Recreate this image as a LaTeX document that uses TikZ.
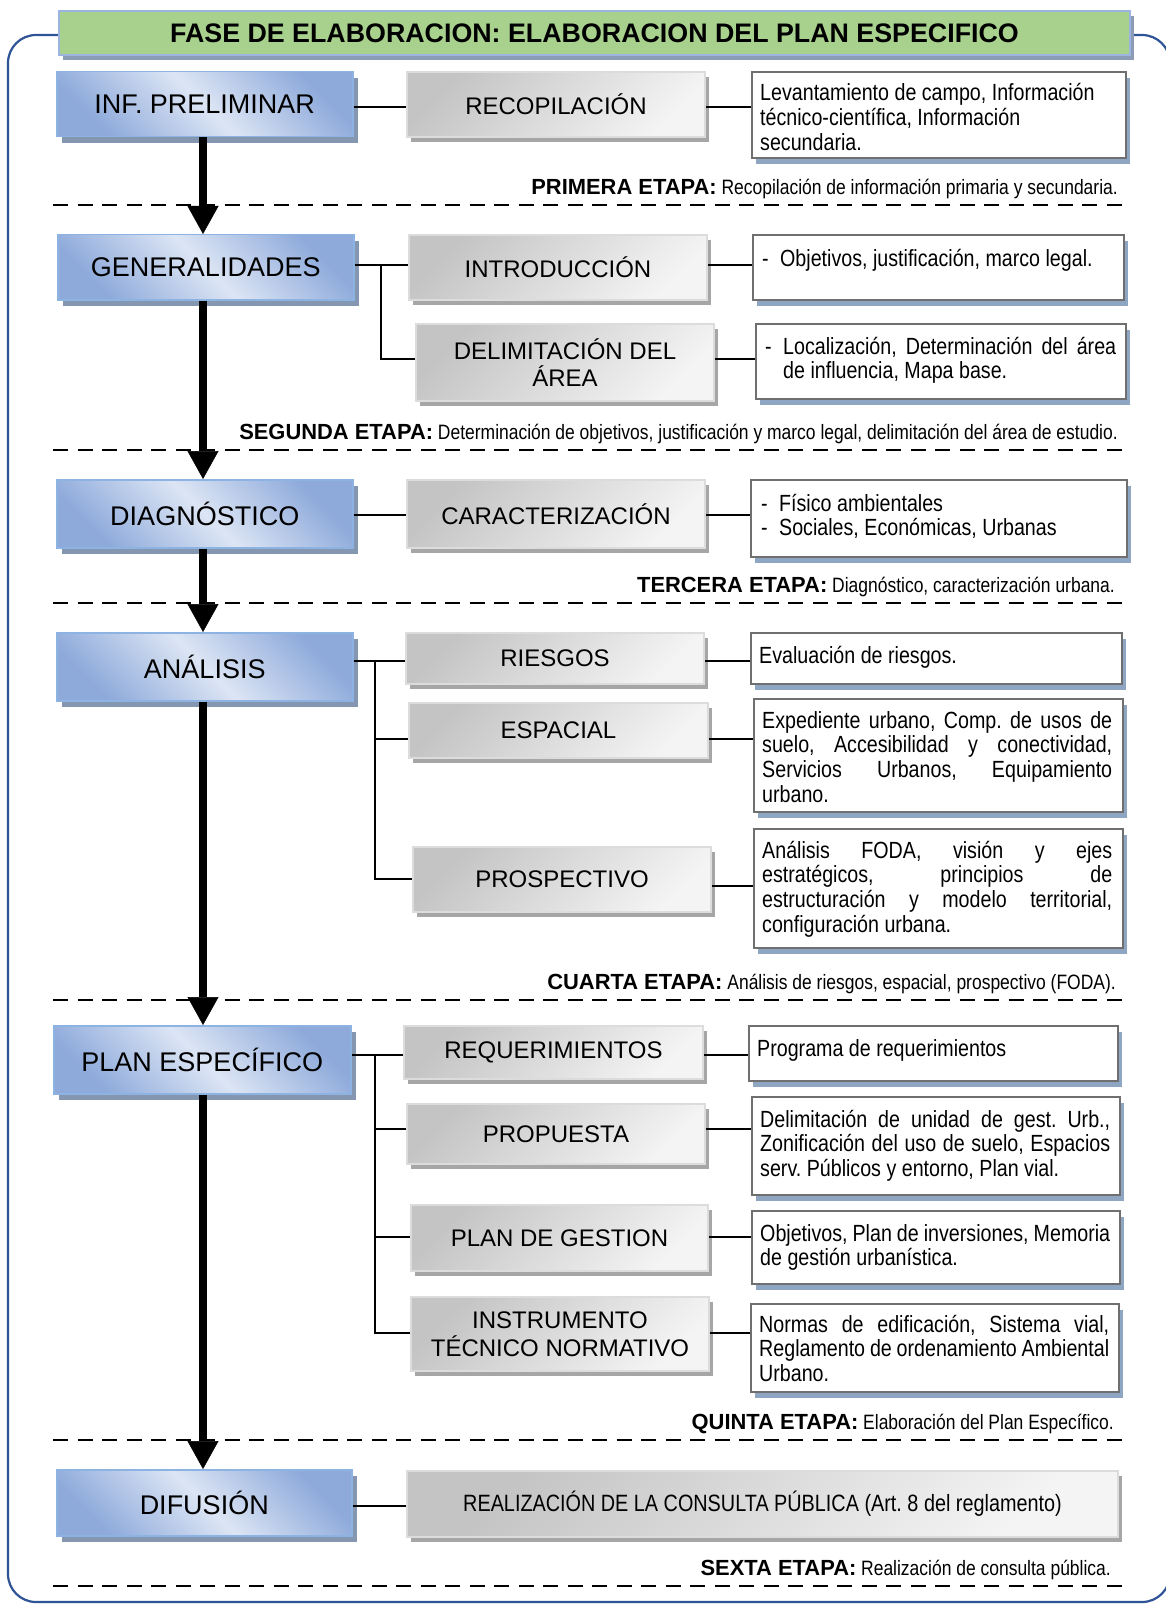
\documentclass[tikz,border=0pt]{standalone}
\usepackage{fontspec}
\setmainfont{Liberation Sans}
\newfontfamily\nar[FakeStretch=0.84]{Liberation Sans}
\usetikzlibrary{arrows.meta,shadows}
\definecolor{bdark}{HTML}{8EAADB}
\definecolor{blight}{HTML}{DCE5F4}
\definecolor{bborder}{HTML}{8DB3E2}
\definecolor{bshadow}{HTML}{8496B0}
\definecolor{gdark}{HTML}{C4C4C4}
\definecolor{glight}{HTML}{F4F4F4}
\definecolor{gborder}{HTML}{DCDCDC}
\definecolor{gshadow}{HTML}{A6A6A6}
\definecolor{dborder}{HTML}{6F6F6F}
\definecolor{dshadow}{HTML}{8FA6C3}
\definecolor{tgreen}{HTML}{A9D18E}
\definecolor{tborder}{HTML}{9CB5E0}
\definecolor{tshadow}{HTML}{8C9BB6}
\definecolor{outerblue}{HTML}{2F5496}
\newlength\dtw \setlength\dtw{350pt}
\newcommand\jl[1]{\makebox[\dtw][s]{#1}}
\newcommand\dsh{\makebox[18pt][l]{-}}
\newcommand\lb[1]{{\normalfont\fontsize{21.9}{24}\selectfont\bfseries #1}}
\frenchspacing
\begin{document}
\begin{tikzpicture}[x=1pt,y=-1pt,
  sz/.style 2 args={minimum width=#1pt,minimum height=#2pt},
  titlebox/.style={draw=tborder,line width=2pt,fill=tgreen,inner sep=0pt,anchor=north west,
     drop shadow={shadow xshift=4pt,shadow yshift=-5pt,fill=tshadow,opacity=1},
     font=\bfseries\fontsize{26.8}{30}\selectfont},
  bluebox/.style={draw=bborder,line width=1.5pt,top color=bdark,bottom color=bdark,middle color=blight,shading angle=-45,inner sep=0pt,anchor=north west,
     drop shadow={shadow xshift=5pt,shadow yshift=-6pt,fill=bshadow,opacity=1},
     font=\fontsize{27}{30}\selectfont},
  greybox/.style={draw=gborder,line width=2pt,top color=gdark,bottom color=glight,shading angle=45,inner sep=0pt,anchor=north west,align=center,
     drop shadow={shadow xshift=4pt,shadow yshift=-5pt,fill=gshadow,opacity=1},
     font=\fontsize{24}{27.5}\selectfont},
  descbox/.style={draw=dborder,line width=2.2pt,fill=white,inner sep=0pt,anchor=north west,
     drop shadow={shadow xshift=4pt,shadow yshift=-6pt,fill=dshadow,opacity=1}},
  desctext/.style={inner sep=0pt,anchor=base west,font=\nar\fontsize{23.4}{24.8}\selectfont},
  lbl/.style={inner sep=0pt,anchor=base east,font=\nar\fontsize{20.8}{24}\selectfont},
  conn/.style={line width=2pt,black},
  flow/.style={line width=8pt,black,-{Triangle[width=31pt,length=28pt,line width=0.5pt]}},
  sepline/.style={line width=2.5pt,black,dash pattern=on 15pt off 9.5pt},
  outerb/.style={draw=outerblue,line width=2.2pt,rounded corners=28pt}
]
\useasboundingbox (0,0) rectangle (1165,1605);
% outer frame
\draw[outerb] (8,35) rectangle (1170,1602);
% separators
\draw[sepline] (53,205) -- (1125,205);
\draw[sepline] (53,450) -- (1125,450);
\draw[sepline] (53,603) -- (1125,603);
\draw[sepline] (53,1000) -- (1125,1000);
\draw[sepline] (53,1440) -- (1125,1440);
\draw[sepline] (53,1586) -- (1125,1586);
% title
\node[titlebox,sz={1071}{44}] (title) at (58,10) {FASE DE ELABORACION: ELABORACION DEL PLAN ESPECIFICO};
% blue boxes
\node[bluebox,sz={296}{65}] (inf) at (56,71) {INF. PRELIMINAR};
\node[bluebox,sz={296}{65}] (gen) at (57,234) {GENERALIDADES};
\node[bluebox,sz={296}{68}] (diag) at (56,479) {DIAGNÓSTICO};
\node[bluebox,sz={296}{68}] (ana) at (56,632) {ANÁLISIS};
\node[bluebox,sz={297}{68}] (plan) at (53,1025) {PLAN ESPECÍFICO};
\node[bluebox,sz={295}{66}] (dif) at (56,1469) {DIFUSIÓN};
% grey boxes
\node[greybox,sz={298}{65}] (recop) at (406,71) {RECOPILACIÓN};
\node[greybox,sz={298}{65}] (intro) at (408,234) {INTRODUCCIÓN};
\node[greybox,sz={298}{77}] (delim) at (415,323) {DELIMITACIÓN DEL\\ÁREA};
\node[greybox,sz={298}{68}] (carac) at (406,479) {CARACTERIZACIÓN};
\node[greybox,sz={298}{51}] (ries) at (405,632) {RIESGOS};
\node[greybox,sz={299}{55}] (esp) at (408,702) {ESPACIAL};
\node[greybox,sz={298}{65}] (prosp) at (412,846) {PROSPECTIVO};
\node[greybox,sz={299}{53}] (req) at (403,1025) {REQUERIMIENTOS};
\node[greybox,sz={298}{60}] (prop) at (406,1103) {PROPUESTA};
\node[greybox,sz={297}{66}] (pg) at (410,1204) {PLAN DE GESTION};
\node[greybox,sz={298}{74}] (instr) at (410,1296) {INSTRUMENTO\\TÉCNICO NORMATIVO};
\node[greybox,sz={711}{66},font=\nar\fontsize{23.6}{27}\selectfont] (real) at (406,1470) {REALIZACIÓN DE LA CONSULTA PÚBLICA (Art.~8 del reglamento)};
% description boxes
\node[descbox,sz={374}{86}] (d1) at (751,71) {};
\node[descbox,sz={371}{65}] (d2) at (752,234) {};
\node[descbox,sz={370}{75}] (d3) at (755,323) {};
\node[descbox,sz={376}{77}] (d4) at (750,479) {};
\node[descbox,sz={371}{51}] (d5) at (750,632) {};
\node[descbox,sz={369}{113}] (d6) at (753,698) {};
\node[descbox,sz={369}{119}] (d7) at (753,828) {};
\node[descbox,sz={369}{55}] (d8) at (748,1025) {};
\node[descbox,sz={368}{98}] (d9) at (751,1096) {};
\node[descbox,sz={368}{73}] (d10) at (751,1210) {};
\node[descbox,sz={368}{88}] (d11) at (750,1303) {};
% description texts
\node[desctext] (t1) at ([xshift=9pt,yshift=-30pt]d1.north west) {\parbox[t]{360pt}{Levantamiento de campo, Información\\técnico-científica, Información\\secundaria.}};
\node[desctext] (t2) at ([xshift=10pt,yshift=-32pt]d2.north west) {\parbox[t]{360pt}{\dsh Objetivos, justificación, marco legal.}};
\node[desctext] (t3) at ([xshift=10pt,yshift=-31pt]d3.north west) {\parbox[t]{360pt}{\dsh\makebox[333pt][s]{Localización, Determinación del área}\\\hspace*{18pt}de influencia, Mapa base.}};
\node[desctext] (t4) at ([xshift=11pt,yshift=-32pt]d4.north west) {\parbox[t]{360pt}{\dsh Físico ambientales\\\dsh Sociales, Económicas, Urbanas}};
\node[desctext] (t5) at ([xshift=9pt,yshift=-31pt]d5.north west) {\parbox[t]{360pt}{Evaluación de riesgos.}};
\node[desctext] (t6) at ([xshift=9pt,yshift=-30pt]d6.north west) {\parbox[t]{360pt}{\jl{Expediente urbano, Comp. de usos de}\\\jl{suelo, Accesibilidad y conectividad,}\\\jl{Servicios Urbanos, Equipamiento}\\urbano.}};
\node[desctext] (t7) at ([xshift=9pt,yshift=-30pt]d7.north west) {\parbox[t]{360pt}{\jl{Análisis FODA, visión y ejes}\\\jl{estratégicos, principios de}\\\jl{estructuración y modelo territorial,}\\configuración urbana.}};
\node[desctext] (t8) at ([xshift=9pt,yshift=-31pt]d8.north west) {\parbox[t]{360pt}{Programa de requerimientos}};
\node[desctext] (t9) at ([xshift=9pt,yshift=-31pt]d9.north west) {\parbox[t]{360pt}{\jl{Delimitación de unidad de gest. Urb.,}\\\jl{Zonificación del uso de suelo, Espacios}\\serv. Públicos y entorno, Plan vial.}};
\node[desctext] (t10) at ([xshift=9pt,yshift=-31pt]d10.north west) {\parbox[t]{360pt}{\jl{Objetivos, Plan de inversiones, Memoria}\\de gestión urbanística.}};
\node[desctext] (t11) at ([xshift=9pt,yshift=-29pt]d11.north west) {\parbox[t]{360pt}{\jl{Normas de edificación, Sistema vial,}\\\jl{Reglamento de ordenamiento Ambiental}\\Urbano.}};
% stage labels
\node[lbl] (l1) at (1118,194.5) {\lb{PRIMERA ETAPA:} Recopilación de información primaria y secundaria.};
\node[lbl] (l2) at (1118,439.5) {\lb{SEGUNDA ETAPA:} Determinación de objetivos, justificación y marco legal, delimitación del área de estudio.};
\node[lbl] (l3) at (1115,592.5) {\lb{TERCERA ETAPA:} Diagnóstico, caracterización urbana.};
\node[lbl] (l4) at (1116,989.5) {\lb{CUARTA ETAPA:} Análisis de riesgos, espacial, prospectivo (FODA).};
\node[lbl] (l5) at (1114,1429.5) {\lb{QUINTA ETAPA:} Elaboración del Plan Específico.};
\node[lbl] (l6) at (1111,1575.5) {\lb{SEXTA ETAPA:} Realización de consulta pública.};
% connectors
\coordinate (r1) at (0,107);
\draw[conn] (inf.east |- r1) -- (recop.west |- r1);
\draw[conn] (recop.east |- r1) -- (d1.west |- r1);
\coordinate (r2) at (381,265);
\coordinate (r2b) at (0,359);
\draw[conn] (gen.east |- r2) -- (intro.west |- r2);
\draw[conn] (r2) |- (delim.west |- r2b);
\draw[conn] (intro.east |- r2) -- (d2.west |- r2);
\draw[conn] (delim.east |- r2b) -- (d3.west |- r2b);
\coordinate (r3) at (0,515);
\draw[conn] (diag.east |- r3) -- (carac.west |- r3);
\draw[conn] (carac.east |- r3) -- (d4.west |- r3);
\coordinate (r4) at (375,661);
\coordinate (r4e) at (0,739);
\coordinate (r4p) at (0,879);
\coordinate (r4q) at (0,886);
\draw[conn] (ana.east |- r4) -- (ries.west |- r4);
\draw[conn] (r4) |- (prosp.west |- r4p);
\draw[conn] (r4 |- r4e) -- (esp.west |- r4e);
\draw[conn] (ries.east |- r4) -- (d5.west |- r4);
\draw[conn] (esp.east |- r4e) -- (d6.west |- r4e);
\draw[conn] (prosp.east |- r4q) -- (d7.west |- r4q);
\coordinate (r5) at (375,1055);
\coordinate (r5p) at (0,1129);
\coordinate (r5g) at (0,1237);
\coordinate (r5i) at (0,1333);
\draw[conn] (plan.east |- r5) -- (req.west |- r5);
\draw[conn] (r5) |- (instr.west |- r5i);
\draw[conn] (r5 |- r5p) -- (prop.west |- r5p);
\draw[conn] (r5 |- r5g) -- (pg.west |- r5g);
\draw[conn] (req.east |- r5) -- (d8.west |- r5);
\draw[conn] (prop.east |- r5p) -- (d9.west |- r5p);
\draw[conn] (pg.east |- r5g) -- (d10.west |- r5g);
\draw[conn] (instr.east |- r5i) -- (d11.west |- r5i);
\coordinate (r6) at (0,1506);
\draw[conn] (dif.east |- r6) -- (real.west |- r6);
% main flow arrows
\coordinate (ax) at (203,0);
\draw[flow] (ax |- inf.south) -- (ax |- gen.north);
\draw[flow] (ax |- gen.south) -- (ax |- diag.north);
\draw[flow] (ax |- diag.south) -- (ax |- ana.north);
\draw[flow] (ax |- ana.south) -- (ax |- plan.north);
\draw[flow] (ax |- plan.south) -- (ax |- dif.north);
\end{tikzpicture}
\end{document}
